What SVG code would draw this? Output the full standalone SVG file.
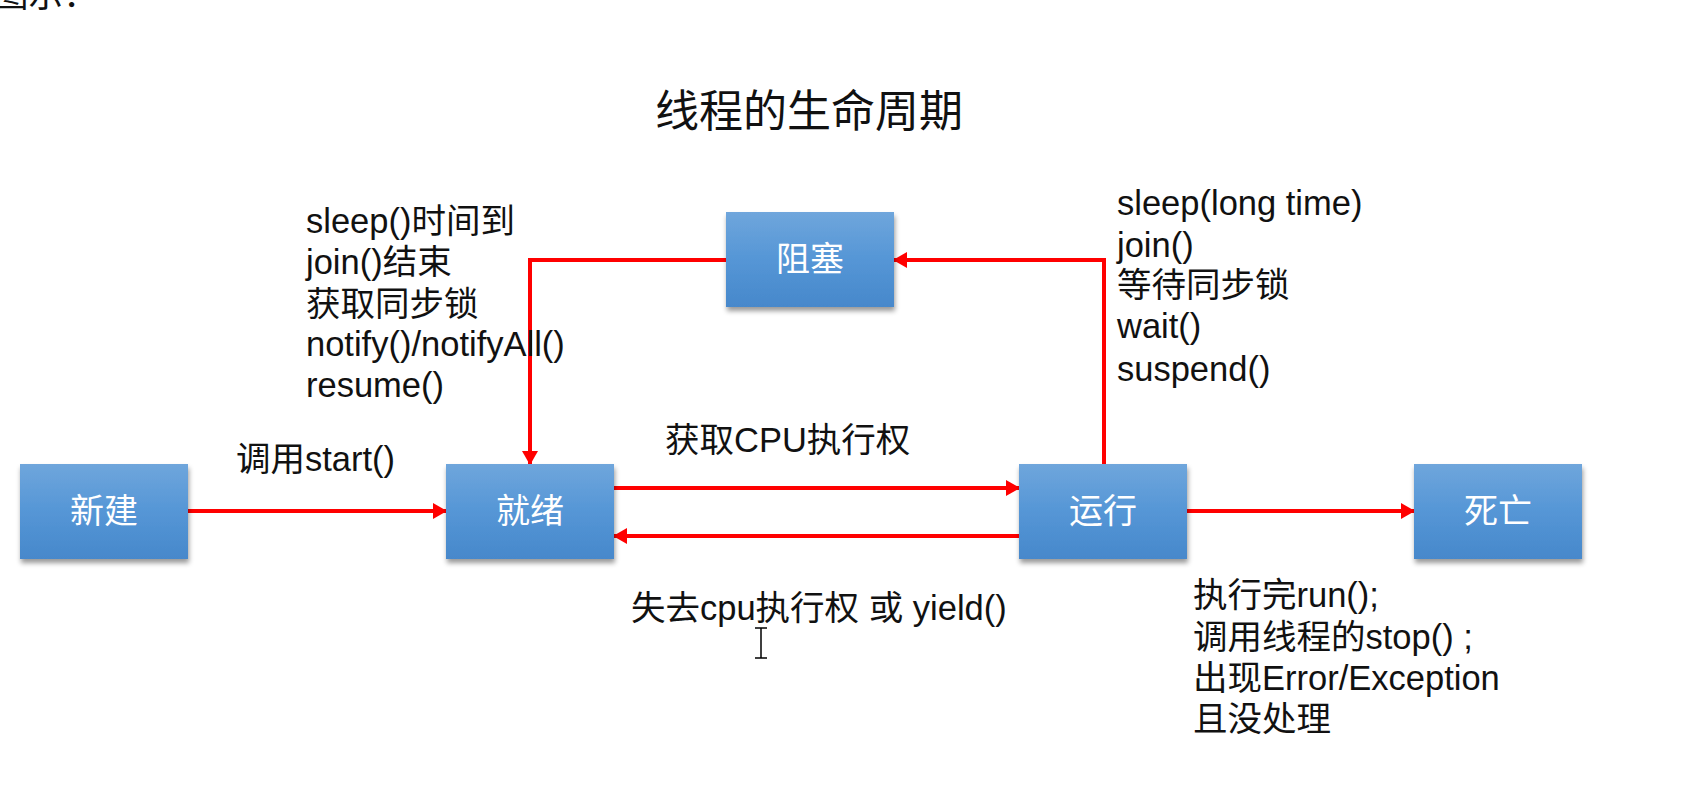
<svg xmlns="http://www.w3.org/2000/svg" width="1682" height="794" viewBox="0 0 1682 794">
<defs>
<linearGradient id="boxg" x1="0" y1="0" x2="0" y2="1">
<stop offset="0" stop-color="#6fa6dc"/>
<stop offset="0.5" stop-color="#5596d6"/>
<stop offset="1" stop-color="#4788cb"/>
</linearGradient>
<filter id="sh" x="-10%" y="-10%" width="125%" height="135%">
<feDropShadow dx="1" dy="4" stdDeviation="2.5" flood-color="#000" flood-opacity="0.4"/>
</filter>
<marker id="arr" viewBox="0 0 14 16" refX="13" refY="8" markerWidth="14" markerHeight="16" markerUnits="userSpaceOnUse" orient="auto">
<path d="M0,0 L14,8 L0,16 Z" fill="#ff0000"/>
</marker>
<style>
.box{fill:url(#boxg);filter:url(#sh)}
.lbl{font-family:"Liberation Sans","Noto Sans CJK SC",sans-serif;font-size:34px;fill:#ffffff;text-anchor:middle}
.t{font-family:"Liberation Sans","Noto Sans CJK SC",sans-serif;font-size:34.5px;fill:#111}
.c{fill:none;stroke:#ff0000;stroke-width:4}
</style>
</defs>
<rect width="1682" height="794" fill="#ffffff"/>
<text class="t" x="-6" y="7">图示：</text>
<text x="809" y="127" font-family="'Liberation Sans','Noto Sans CJK SC',sans-serif" font-size="44" fill="#111" text-anchor="middle">线程的生命周期</text>

<g id="connectors">
<path class="c" d="M188,511 H446" marker-end="url(#arr)"/>
<path class="c" d="M614,488 H1019" marker-end="url(#arr)"/>
<path class="c" d="M1019,536 H614" marker-end="url(#arr)"/>
<path class="c" d="M1187,511 H1414" marker-end="url(#arr)"/>
<path class="c" d="M1104,464 V260 H894" marker-end="url(#arr)"/>
<path class="c" d="M726,260 H530 V464" marker-end="url(#arr)"/>
</g>

<g id="node-new"><rect class="box" x="20" y="464" width="168" height="95"/><text class="lbl" x="104" y="523">新建</text></g>
<g id="node-ready"><rect class="box" x="446" y="464" width="168" height="95"/><text class="lbl" x="530" y="523">就绪</text></g>
<g id="node-running"><rect class="box" x="1019" y="464" width="168" height="95"/><text class="lbl" x="1103" y="523">运行</text></g>
<g id="node-dead"><rect class="box" x="1414" y="464" width="168" height="95"/><text class="lbl" x="1498" y="523">死亡</text></g>
<g id="node-blocked"><rect class="box" x="726" y="212" width="168" height="95"/><text class="lbl" x="810" y="271">阻塞</text></g>

<g id="labels">
<text class="t" x="306" y="233">sleep()时间到</text>
<text class="t" x="306" y="274">join()结束</text>
<text class="t" x="306" y="316">获取同步锁</text>
<text class="t" x="306" y="356">notify()/notifyAll()</text>
<text class="t" x="306" y="397">resume()</text>

<text class="t" x="1117" y="215">sleep(long time)</text>
<text class="t" x="1117" y="257">join()</text>
<text class="t" x="1117" y="297">等待同步锁</text>
<text class="t" x="1117" y="338">wait()</text>
<text class="t" x="1117" y="381">suspend()</text>

<text class="t" x="236" y="471">调用start()</text>
<text class="t" x="665" y="452">获取CPU执行权</text>
<text class="t" x="631" y="620">失去cpu执行权 或 yield()</text>

<text class="t" x="1193" y="607">执行完run();</text>
<text class="t" x="1193" y="649">调用线程的stop() ;</text>
<text class="t" x="1193" y="690">出现Error/Exception</text>
<text class="t" x="1193" y="731">且没处理</text>
</g>
<path d="M755,628 H767 M761,628 V658 M755,658 H767" stroke="#000" stroke-width="1.5" fill="none"/>
</svg>
